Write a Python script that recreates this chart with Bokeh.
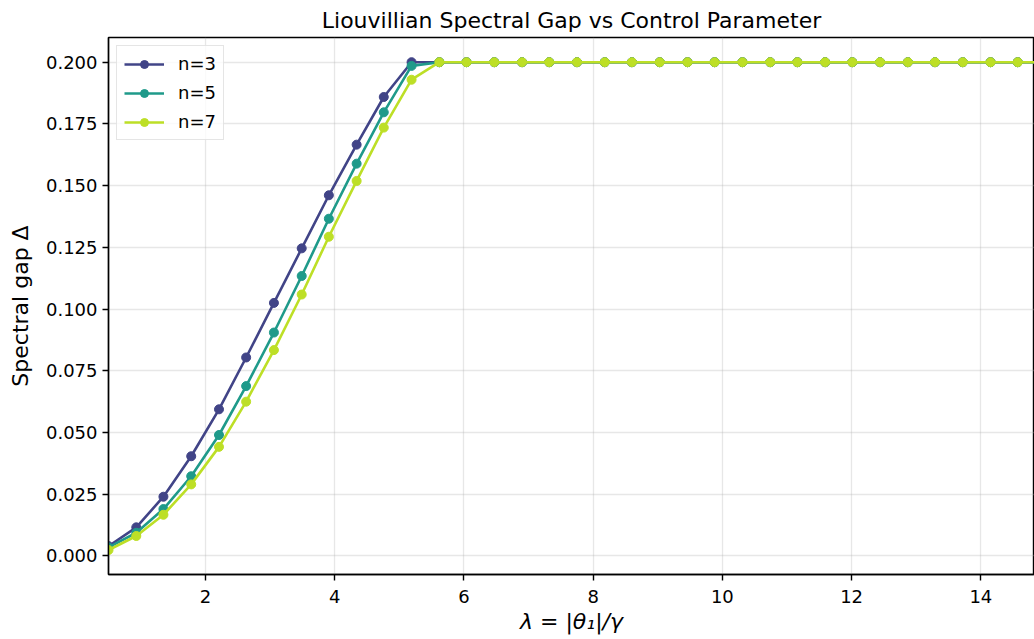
from bokeh.plotting import figure
from bokeh.models import FixedTicker, Range1d, Legend, LegendItem
from bokeh.embed import file_html
from bokeh.resources import INLINE

# ---- data ----
lam = [0.50, 0.93, 1.35, 1.78, 2.21, 2.63, 3.06, 3.49, 3.91, 4.34, 4.76, 5.19,
       5.62, 6.04, 6.47, 6.90, 7.32, 7.75, 8.18, 8.60, 9.03, 9.46, 9.88, 10.31,
       10.74, 11.16, 11.59, 12.01, 12.44, 12.87, 13.29, 13.72, 14.15, 14.57, 15.00]

gap_n3 = [0.0040, 0.0116, 0.0240, 0.0404, 0.0594, 0.0804, 0.1025, 0.1246, 0.1461,
          0.1666, 0.1859, 0.2000, 0.2000, 0.2000, 0.2000, 0.2000, 0.2000, 0.2000,
          0.2000, 0.2000, 0.2000, 0.2000, 0.2000, 0.2000, 0.2000, 0.2000, 0.2000,
          0.2000, 0.2000, 0.2000, 0.2000, 0.2000, 0.2000, 0.2000, 0.2000]
gap_n5 = [0.0035, 0.0094, 0.0190, 0.0323, 0.0490, 0.0688, 0.0905, 0.1134, 0.1366,
          0.1589, 0.1797, 0.1985, 0.2000, 0.2000, 0.2000, 0.2000, 0.2000, 0.2000,
          0.2000, 0.2000, 0.2000, 0.2000, 0.2000, 0.2000, 0.2000, 0.2000, 0.2000,
          0.2000, 0.2000, 0.2000, 0.2000, 0.2000, 0.2000, 0.2000, 0.2000]
gap_n7 = [0.0024, 0.0081, 0.0167, 0.0290, 0.0442, 0.0625, 0.0834, 0.1059, 0.1293,
          0.1519, 0.1735, 0.1929, 0.2000, 0.2000, 0.2000, 0.2000, 0.2000, 0.2000,
          0.2000, 0.2000, 0.2000, 0.2000, 0.2000, 0.2000, 0.2000, 0.2000, 0.2000,
          0.2000, 0.2000, 0.2000, 0.2000, 0.2000, 0.2000, 0.2000, 0.2000]

series_labels = ["n=3", "n=5", "n=7"]
series_values = [gap_n3, gap_n5, gap_n7]
colors = ["#414487", "#1f9a8a", "#bddf26"]

x_ticks = [2, 4, 6, 8, 10, 12, 14]
y_ticks = [0.0, 0.025, 0.05, 0.075, 0.1, 0.125, 0.15, 0.175, 0.2]

FONT = "DejaVu Sans"
Y_MIN, Y_MAX = -0.0075, 0.2100

p = figure(width=1034, height=639, output_backend="svg", toolbar_location=None,
           x_range=Range1d(0.5, 14.83), y_range=Range1d(Y_MIN, Y_MAX),
           min_border_left=108, min_border_right=0, min_border_top=37,
           min_border_bottom=65)

xax = p.below[0]
yax = p.left[0]

p.title.text = "Liouvillian Spectral Gap vs Control Parameter"
p.title.text_font = FONT
p.title.text_font_size = "22px"
p.title.text_font_style = "normal"
p.title.align = "center"
p.title.text_color = "#000000"

# frame border (top spine); right edge falls on the window edge
p.outline_line_color = "#000000"
p.outline_line_width = 1.4

renderers = []
for lab, vals, col in zip(series_labels, series_values, colors):
    l = p.line(lam, vals, line_color=col, line_width=2.6)
    s = p.scatter(lam, vals, size=9, fill_color=col, line_color=col)
    renderers.append((lab, [l, s]))

legend = Legend(items=[LegendItem(label=lab, renderers=r) for lab, r in renderers],
                location="top_left")
legend.label_text_font = FONT
legend.label_text_font_size = "18px"
legend.label_text_color = "#000000"
legend.glyph_width = 40
legend.glyph_height = 20
legend.label_height = 20
legend.label_standoff = 14
legend.spacing = 8
legend.padding = 7
legend.margin = 8
legend.border_line_color = "#cccccc"
legend.border_line_width = 1.2
legend.background_fill_color = "#ffffff"
legend.background_fill_alpha = 0.8
p.add_layout(legend)

for ax in (xax, yax):
    ax.axis_line_color = "#000000"
    ax.axis_line_width = 1.4
    ax.major_tick_line_color = "#000000"
    ax.major_tick_line_width = 1.4
    ax.major_tick_out = 6
    ax.major_tick_in = 0
    ax.minor_tick_out = 0
    ax.minor_tick_in = 0
    ax.major_label_text_font = FONT
    ax.major_label_text_font_size = "18px"
    ax.major_label_text_color = "#000000"
    ax.axis_label_text_font = FONT
    ax.axis_label_text_font_size = "22px"
    ax.axis_label_text_color = "#000000"

xax.ticker = FixedTicker(ticks=x_ticks)
yax.ticker = FixedTicker(ticks=y_ticks)
yax.major_label_overrides = {t: f"{t:.3f}" for t in y_ticks}
xax.major_label_standoff = 9
yax.major_label_standoff = 5
xax.axis_label = "λ = |θ₁|/γ"
xax.axis_label_text_font_style = "italic"
xax.axis_label_standoff = 3
yax.axis_label = "Spectral gap Δ"
yax.axis_label_text_font_style = "normal"
yax.axis_label_standoff = 10

p.xgrid.ticker = FixedTicker(ticks=x_ticks)
p.ygrid.ticker = FixedTicker(ticks=y_ticks)
p.grid.grid_line_color = "#b0b0b0"
p.grid.grid_line_alpha = 0.3
p.grid.grid_line_width = 1.3

open("out.html", "w").write(file_html(p, INLINE))
